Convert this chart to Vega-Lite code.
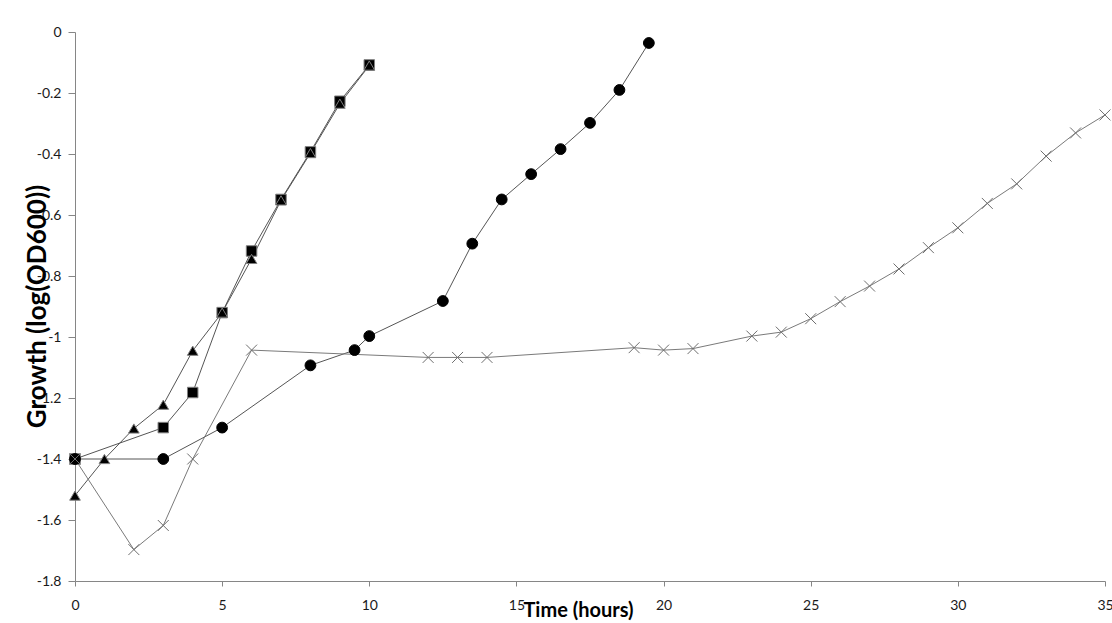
{
  "$schema": "https://vega.github.io/schema/vega-lite/v6.json",
  "width": 1030,
  "height": 549,
  "autosize": {"type": "none"},
  "padding": {"left": 75, "top": 32, "right": 7, "bottom": 42},
  "background": "white",
  "config": {
    "view": {"stroke": null},
    "font": "Lato",
    "axis": {
      "grid": false,
      "domainColor": "#868686",
      "tickColor": "#868686",
      "labelColor": "#1a1a1a",
      "labelFont": "Lato",
      "labelFontSize": 14,
      "titleFont": "Lato",
      "titleFontWeight": "bold",
      "titleColor": "#000000"
    }
  },
  "data": {
    "values": [
      {"series": "S1", "time": 0, "growth": -1.4},
      {"series": "S1", "time": 3, "growth": -1.297},
      {"series": "S1", "time": 4, "growth": -1.182},
      {"series": "S1", "time": 5, "growth": -0.92},
      {"series": "S1", "time": 6, "growth": -0.718},
      {"series": "S1", "time": 7, "growth": -0.549},
      {"series": "S1", "time": 8, "growth": -0.393},
      {"series": "S1", "time": 9, "growth": -0.227},
      {"series": "S1", "time": 10, "growth": -0.108},
      {"series": "S2", "time": 0, "growth": -1.52},
      {"series": "S2", "time": 1, "growth": -1.4},
      {"series": "S2", "time": 2, "growth": -1.3},
      {"series": "S2", "time": 3, "growth": -1.222},
      {"series": "S2", "time": 4, "growth": -1.045},
      {"series": "S2", "time": 5, "growth": -0.92},
      {"series": "S2", "time": 6, "growth": -0.744},
      {"series": "S2", "time": 7, "growth": -0.552},
      {"series": "S2", "time": 8, "growth": -0.397},
      {"series": "S2", "time": 9, "growth": -0.235},
      {"series": "S2", "time": 10, "growth": -0.11},
      {"series": "S3", "time": 0, "growth": -1.4},
      {"series": "S3", "time": 3, "growth": -1.4},
      {"series": "S3", "time": 5, "growth": -1.297},
      {"series": "S3", "time": 8, "growth": -1.093},
      {"series": "S3", "time": 9.5, "growth": -1.043},
      {"series": "S3", "time": 10, "growth": -0.997},
      {"series": "S3", "time": 12.5, "growth": -0.882},
      {"series": "S3", "time": 13.5, "growth": -0.694},
      {"series": "S3", "time": 14.5, "growth": -0.549},
      {"series": "S3", "time": 15.5, "growth": -0.466},
      {"series": "S3", "time": 16.5, "growth": -0.384},
      {"series": "S3", "time": 17.5, "growth": -0.298},
      {"series": "S3", "time": 18.5, "growth": -0.19},
      {"series": "S3", "time": 19.5, "growth": -0.036},
      {"series": "S4", "time": 0, "growth": -1.4},
      {"series": "S4", "time": 2, "growth": -1.697},
      {"series": "S4", "time": 3, "growth": -1.618},
      {"series": "S4", "time": 4, "growth": -1.4},
      {"series": "S4", "time": 6, "growth": -1.043},
      {"series": "S4", "time": 12, "growth": -1.067},
      {"series": "S4", "time": 13, "growth": -1.067},
      {"series": "S4", "time": 14, "growth": -1.067},
      {"series": "S4", "time": 19, "growth": -1.035},
      {"series": "S4", "time": 20, "growth": -1.043},
      {"series": "S4", "time": 21, "growth": -1.038},
      {"series": "S4", "time": 23, "growth": -0.997},
      {"series": "S4", "time": 24, "growth": -0.984},
      {"series": "S4", "time": 25, "growth": -0.94},
      {"series": "S4", "time": 26, "growth": -0.884},
      {"series": "S4", "time": 27, "growth": -0.833},
      {"series": "S4", "time": 28, "growth": -0.777},
      {"series": "S4", "time": 29, "growth": -0.707},
      {"series": "S4", "time": 30, "growth": -0.642},
      {"series": "S4", "time": 31, "growth": -0.562},
      {"series": "S4", "time": 32, "growth": -0.498},
      {"series": "S4", "time": 33, "growth": -0.407},
      {"series": "S4", "time": 34, "growth": -0.331},
      {"series": "S4", "time": 35, "growth": -0.272}
    ]
  },
  "encoding": {
    "x": {
      "field": "time",
      "type": "quantitative",
      "scale": {"domain": [0, 35], "nice": false, "zero": false},
      "axis": {
        "title": "Time (hours)",
        "values": [0, 5, 10, 15, 20, 25, 30, 35],
        "tickSize": 5,
        "labelPadding": 12,
        "titleFontSize": 20,
        "titleX": 503,
        "titleY": 35,
        "titleBaseline": "alphabetic",
        "titleAlign": "center",
        "labelFlush": false
      }
    },
    "y": {
      "field": "growth",
      "type": "quantitative",
      "scale": {"domain": [-1.8, 0], "nice": false, "zero": false},
      "axis": {
        "title": "Growth (log(OD600))",
        "values": [-1.8, -1.6, -1.4, -1.2, -1, -0.8, -0.6, -0.4, -0.2, 0],
        "labelExpr": "replace(format(datum.value, '.1~f'), '\u2212', '-')",
        "tickSize": 7,
        "labelPadding": 7,
        "titleFontSize": 26,
        "titleX": -38,
        "titleY": 274,
        "titleAngle": 270,
        "titleBaseline": "middle",
        "titleAlign": "center",
        "labelFlush": false
      }
    }
  },
  "layer": [
    {
      "mark": {"type": "line", "strokeWidth": 1, "clip": false},
      "encoding": {
        "detail": {"field": "series"},
        "color": {
          "field": "series",
          "type": "nominal",
          "scale": {"domain": ["S1", "S2", "S3", "S4"], "range": ["#555555", "#555555", "#555555", "#7a7a7a"]},
          "legend": null
        }
      }
    },
    {
      "mark": {"type": "point", "filled": true, "opacity": 1, "strokeWidth": 1, "clip": false},
      "encoding": {
        "shape": {
          "field": "series",
          "type": "nominal",
          "scale": {"domain": ["S1", "S2", "S3", "S4"], "range": ["square", "triangle-up", "circle", "M-1,-1L1,1M-1,1L1,-1"]},
          "legend": null
        },
        "fill": {
          "field": "series",
          "type": "nominal",
          "scale": {"domain": ["S1", "S2", "S3", "S4"], "range": ["#000000", "#000000", "#000000", "transparent"]},
          "legend": null
        },
        "stroke": {
          "field": "series",
          "type": "nominal",
          "scale": {"domain": ["S1", "S2", "S3", "S4"], "range": ["#808080", "#808080", "#000000", "#6e6e6e"]},
          "legend": null
        },
        "size": {
          "field": "series",
          "type": "nominal",
          "scale": {"domain": ["S1", "S2", "S3", "S4"], "range": [110, 120, 72, 169]},
          "legend": null
        }
      }
    }
  ]
}
